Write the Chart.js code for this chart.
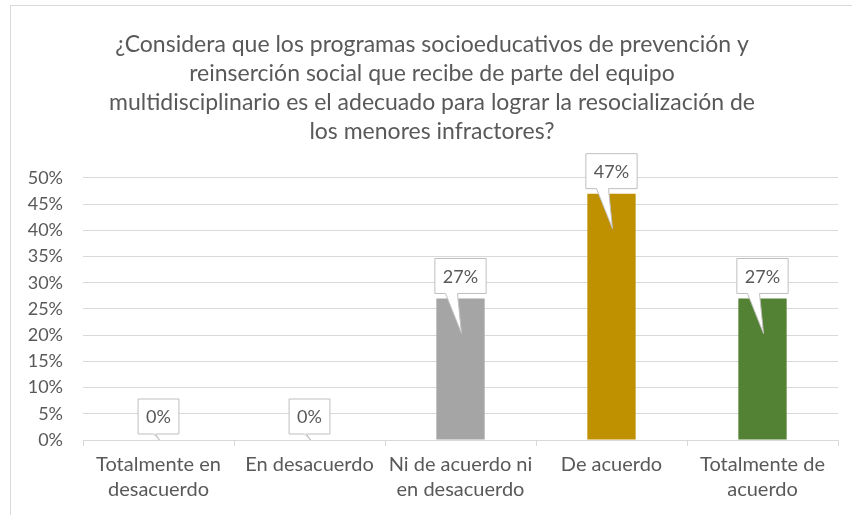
<!DOCTYPE html>
<html>
<head>
<meta charset="utf-8">
<script src="https://cdn.jsdelivr.net/npm/chart.js@4"></script>
<style>
  body { margin: 0; background: #fff; }
  #wrap { width: 852px; height: 515px; }
</style>
</head>
<body>
<div id="wrap"><canvas id="chart" width="852" height="515"></canvas></div>
<script>
const titleLines = [
  '¿Considera que los programas socioeducativos de prevención y',
  'reinserción social que recibe de parte del equipo',
  'multidisciplinario es el adecuado para lograr la resocialización de',
  'los menores infractores?'
];
const categories = [
  ['Totalmente en', 'desacuerdo'],
  'En desacuerdo',
  ['Ni de acuerdo ni', 'en desacuerdo'],
  'De acuerdo',
  ['Totalmente de', 'acuerdo']
];
const values = [0, 0, 27, 47, 27];
const barColors = ['#a5a5a5', '#a5a5a5', '#a5a5a5', '#bf9000', '#548235'];

const FONT = 'Lato';
const TEXT = '#595959';

// frame around the chart + callout-style data labels
const frame = {
  id: 'frame',
  beforeDraw(chart) {
    const ctx = chart.ctx;
    ctx.save();
    ctx.strokeStyle = '#d9d9d9';
    ctx.lineWidth = 1;
    ctx.beginPath();
    ctx.moveTo(10.5, 515);
    ctx.lineTo(10.5, 5.5);
    ctx.lineTo(852, 5.5);
    ctx.stroke();
    ctx.restore();
  }
};

const callouts = {
  id: 'callouts',
  afterDatasetsDraw(chart) {
    const ctx = chart.ctx;
    const meta = chart.getDatasetMeta(0);
    const base = chart.scales.y.getPixelForValue(0);
    meta.data.forEach((bar, i) => {
      const text = Math.round(values[i]) + '%';
      ctx.save();
      ctx.font = '18px ' + FONT;
      const w = ctx.measureText(text).width + 16;
      const h = 35;
      const boxBottom = bar.y - (values[i] > 0 ? 5 : 6);
      const boxTop = boxBottom - h;
      const tipY = Math.min(bar.y + 35, base);
      const cx = bar.x;
      const left = cx - w / 2;
      const baseL = cx - Math.min(15, 3 + (tipY - boxBottom) * 0.3);
      ctx.beginPath();
      ctx.moveTo(left, boxTop);
      ctx.lineTo(left + w, boxTop);
      ctx.lineTo(left + w, boxBottom);
      ctx.lineTo(cx - 3, boxBottom);
      ctx.lineTo(cx + 1, tipY);
      ctx.lineTo(baseL, boxBottom);
      ctx.lineTo(left, boxBottom);
      ctx.closePath();
      ctx.fillStyle = '#ffffff';
      ctx.fill();
      ctx.strokeStyle = '#bfbfbf';
      ctx.lineWidth = 1;
      ctx.stroke();
      ctx.fillStyle = TEXT;
      ctx.textAlign = 'center';
      ctx.textBaseline = 'middle';
      ctx.fillText(text, cx, boxTop + h / 2 + 1);
      ctx.restore();
    });
  }
};

new Chart(document.getElementById('chart'), {
  type: 'bar',
  data: {
    labels: categories,
    datasets: [{
      data: values,
      backgroundColor: barColors,
      categoryPercentage: 1,
      barPercentage: 0.32
    }]
  },
  options: {
    responsive: false,
    animation: false,
    layout: { padding: { left: 26, right: 14, top: 6, bottom: 7 } },
    plugins: {
      legend: { display: false },
      tooltip: { enabled: false },
      title: {
        display: true,
        text: titleLines,
        color: TEXT,
        font: { family: FONT, size: 23, weight: 'normal', lineHeight: 1.26 },
        padding: { top: 24, bottom: 32 }
      }
    },
    scales: {
      x: {
        grid: { display: true, drawOnChartArea: false, tickLength: 6, color: '#d9d9d9' },
        border: { color: '#d9d9d9' },
        afterFit: s => { s.paddingLeft = 0; s.paddingRight = 0; },
        ticks: { color: TEXT, font: { family: FONT, size: 20, lineHeight: 1.25 }, maxRotation: 0, autoSkip: false, padding: 6 }
      },
      y: {
        min: 0,
        max: 50,
        grid: { color: '#d9d9d9', drawTicks: false },
        border: { display: false },
        afterFit: s => { s.width = 57; },
        ticks: {
          stepSize: 5,
          color: TEXT,
          padding: 20,
          font: { family: FONT, size: 18 },
          callback: v => v + '%'
        }
      }
    }
  },
  plugins: [frame, callouts]
});
</script>
</body>
</html>
